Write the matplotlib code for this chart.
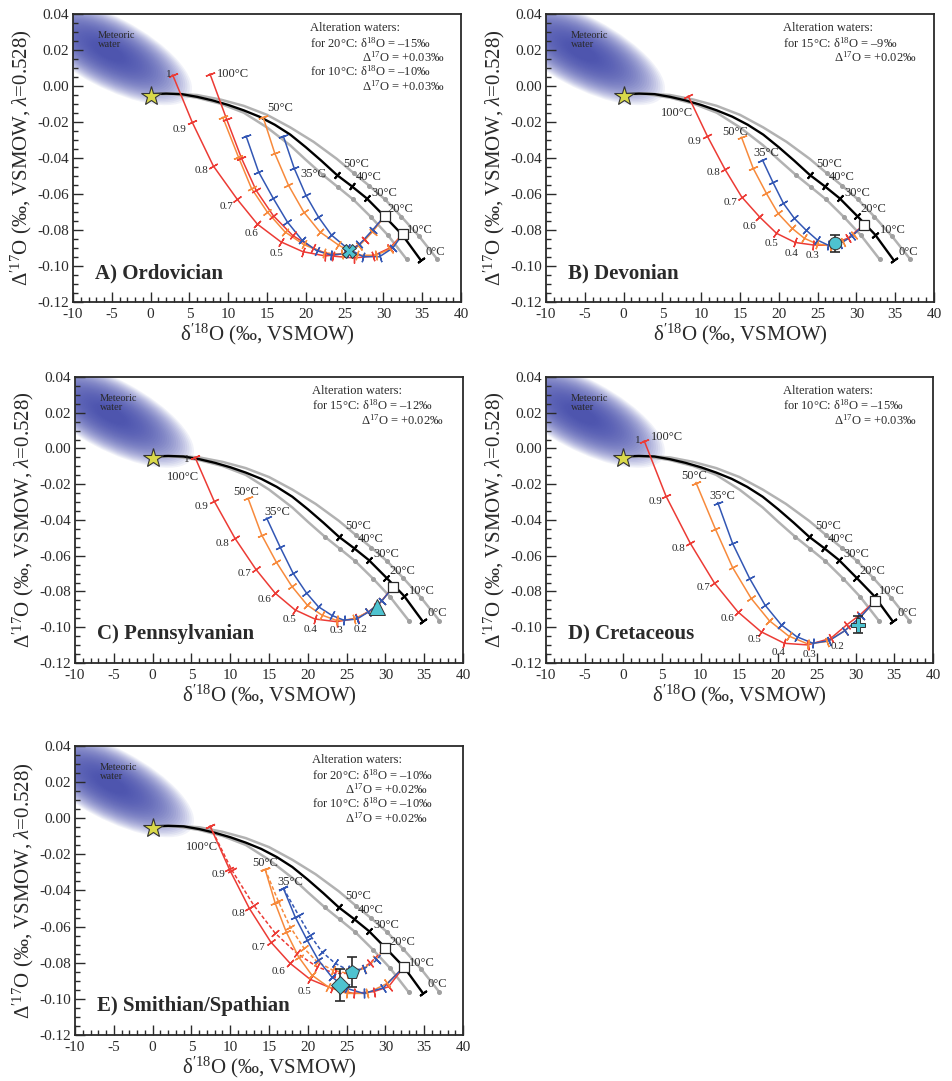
import numpy as np
import matplotlib
matplotlib.use("Agg")
import matplotlib.pyplot as plt
import matplotlib.transforms as mtransforms
from matplotlib.patches import Ellipse
from matplotlib.ticker import FixedLocator, FixedFormatter, MultipleLocator

plt.rcParams["font.family"] = ["Liberation Serif", "DejaVu Serif"]
plt.rcParams["mathtext.fontset"] = "custom"
plt.rcParams["mathtext.rm"] = "Liberation Serif"
plt.rcParams["mathtext.it"] = "Liberation Serif:italic"

# ---- axes ticks ----
X_TICKS = [-10, -5, 0, 5, 10, 15, 20, 25, 30, 35, 40]
X_TICK_LABELS = ["-10", "-5", "0", "5", "10", "15", "20", "25", "30", "35", "40"]
Y_TICKS = [-0.12, -0.10, -0.08, -0.06, -0.04, -0.02, 0.00, 0.02, 0.04]
Y_TICK_LABELS = ["-0.12", "-0.10", "-0.08", "-0.06", "-0.04", "-0.02", "0.00", "0.02", "0.04"]

# ---- carbonate equilibrium curves (shared by all panels) ----
BLACK_X = [0, 2, 4, 6, 8, 10, 12, 14, 16, 18, 20, 22, 24.0, 25.9, 27.85, 30.1, 32.4, 34.8]
BLACK_Y = [-0.0045, -0.0042, -0.0045, -0.006, -0.008, -0.0105, -0.0135, -0.017, -0.0215,
           -0.027, -0.034, -0.0415, -0.0494, -0.0556, -0.0624, -0.0722, -0.0825, -0.0967]
BLACK_TEMP_IDX = [12, 13, 14, 15, 16, 17]          # 50, 40, 30, 20, 10, 0 degC
GRAY_HI_X = [0.5, 3, 6, 9, 12, 15, 18, 21, 24, 26.2, 28.2, 30.2, 32.3, 34.6, 36.95]
GRAY_HI_Y = [-0.0045, -0.0042, -0.005, -0.0075, -0.011, -0.016, -0.023, -0.031, -0.0405,
             -0.0485, -0.0555, -0.063, -0.0725, -0.0835, -0.0963]
GRAY_LO_X = [0.5, 3, 6, 9, 12, 15, 18, 20, 22.2, 24.1, 26.1, 28.4, 30.6, 33.0]
GRAY_LO_Y = [-0.0045, -0.0045, -0.0065, -0.0098, -0.0148, -0.023, -0.033, -0.041, -0.0494,
             -0.056, -0.063, -0.0728, -0.083, -0.0963]
GRAY_HI_DOTS = [9, 10, 11, 12, 13, 14]
GRAY_LO_DOTS = [8, 9, 10, 11, 12, 13]
TEMP_LABELS = [("50°C", 26.45, -0.0433), ("40°C", 28.05, -0.0507), ("30°C", 30.1, -0.0593),
               ("20°C", 32.2, -0.0685), ("10°C", 34.65, -0.080), ("0°C", 36.65, -0.092)]
STAR = (0.0, -0.0055)

# ---- A) Ordovician ----
A_RED_20 = ([2.85, 5.37, 8.08, 11.17, 13.75, 16.76, 19.6, 22.5, 25.2, 27.6, 30.2],
            [0.0061, -0.0202, -0.0444, -0.063, -0.0767, -0.0865, -0.092, -0.0944, -0.093, -0.0855, -0.072])
A_RED_10 = ([7.65, 9.8, 11.7, 13.6, 15.8, 18.3, 20.9, 23.5, 26.2, 28.6, 30.8, 32.5],
            [0.0067, -0.0185, -0.040, -0.058, -0.072, -0.083, -0.090, -0.0945, -0.0955, -0.0945, -0.090, -0.0822])
A_ORA_20 = ([9.3, 11.3, 13.0, 15.0, 17.3, 19.7, 22.3, 24.6, 26.8, 28.6, 30.2],
            [-0.0174, -0.0393, -0.0569, -0.0698, -0.081, -0.088, -0.0926, -0.0935, -0.089, -0.081, -0.072])
A_ORA_10 = ([14.5, 16.0, 17.75, 19.7, 21.8, 24.2, 26.6, 29.0, 30.9, 32.5],
            [-0.0174, -0.0374, -0.055, -0.0698, -0.081, -0.0883, -0.094, -0.094, -0.0905, -0.0822])
A_BLU_20 = ([12.3, 13.9, 15.8, 17.6, 19.5, 21.4, 23.3, 25.2, 26.9, 28.6, 30.2],
            [-0.0278, -0.0476, -0.0624, -0.0754, -0.0856, -0.0915, -0.0939, -0.093, -0.088, -0.080, -0.072])
A_BLU_10 = ([17.1, 18.5, 20.0, 21.6, 23.3, 25.3, 27.4, 29.5, 31.2, 32.5],
            [-0.0278, -0.0457, -0.0606, -0.0726, -0.0828, -0.090, -0.0948, -0.0948, -0.090, -0.0822])
A_SQUARES = ([30.2, 32.5], [-0.072, -0.0822])
A_SAMPLE = (25.5, -0.0915)
A_LABELS = [("1", 2.3, 0.0062), ("100°C", 10.6, 0.0065), ("50°C", 16.7, -0.0124), ("35°C", 20.9, -0.049),
            ("0.9", 3.7, -0.0239), ("0.8", 6.6, -0.047), ("0.7", 9.8, -0.0667), ("0.6", 13.0, -0.0818),
            ("0.5", 16.25, -0.093)]
A_NOTE = ["Alteration waters:", "for 20°C: δ$^{18}$O = –15‰", "Δ$^{17}$O = +0.03‰",
          "for 10°C: δ$^{18}$O = –10‰", "Δ$^{17}$O = +0.03‰"]

# ---- B) Devonian ----
B_RED = ([8.34, 10.79, 13.07, 15.2, 17.5, 19.7, 22.1, 24.45, 26.6, 28.9, 31.0],
         [-0.0056, -0.0278, -0.0463, -0.0615, -0.0726, -0.0818, -0.0869, -0.0883, -0.0885, -0.0845, -0.077])
B_ORA = ([15.2, 16.7, 18.4, 19.9, 21.7, 23.3, 24.9, 26.6, 28.3, 29.7, 31.0],
         [-0.0285, -0.0457, -0.0596, -0.0707, -0.079, -0.0846, -0.0877, -0.0888, -0.0865, -0.0825, -0.077])
B_BLU = ([17.9, 19.2, 20.6, 22.0, 23.5, 24.95, 26.4, 27.9, 29.4, 31.0],
         [-0.0411, -0.0531, -0.0652, -0.0735, -0.080, -0.0855, -0.0885, -0.0875, -0.0835, -0.077])
B_SQUARES = ([31.0], [-0.077])
B_SAMPLE = (27.2, -0.0874, 0.0046)
B_LABELS = [("100°C", 6.85, -0.0152), ("50°C", 14.35, -0.0254), ("35°C", 18.4, -0.0374),
            ("0.9", 9.2, -0.0306), ("0.8", 11.56, -0.048), ("0.7", 13.84, -0.0648), ("0.6", 16.2, -0.0778),
            ("0.5", 19.1, -0.0874), ("0.4", 21.6, -0.093), ("0.3", 24.4, -0.0944)]
B_NOTE = ["Alteration waters:", "for 15°C: δ$^{18}$O = –9‰", "Δ$^{17}$O = +0.02‰"]

# ---- C) Pennsylvanian ----
C_RED = ([5.46, 7.9, 10.6, 13.3, 15.8, 18.35, 20.9, 23.7, 26.3, 28.9, 31.0],
         [-0.0049, -0.0292, -0.0502, -0.0676, -0.081, -0.0903, -0.0954, -0.0969, -0.095, -0.0885, -0.0773])
C_ORA = ([12.3, 14.05, 15.9, 17.9, 19.9, 21.8, 23.7, 25.9, 27.8, 29.5, 31.0],
         [-0.0279, -0.0484, -0.0633, -0.0769, -0.0875, -0.0932, -0.0962, -0.0955, -0.0915, -0.0855, -0.0773])
C_BLU = ([14.7, 16.4, 18.1, 19.8, 21.35, 23.1, 24.6, 26.3, 27.8, 29.5, 31.0],
         [-0.039, -0.0549, -0.0698, -0.0807, -0.0885, -0.0934, -0.096, -0.0955, -0.0915, -0.0855, -0.0773])
C_SQUARES = ([31.0], [-0.0773])
C_SAMPLE = (28.9, -0.0885)
C_LABELS = [("1", 4.4, -0.0064), ("100°C", 3.96, -0.0158), ("50°C", 12.1, -0.0242), ("35°C", 16.1, -0.0353),
            ("0.9", 6.3, -0.0322), ("0.8", 9.0, -0.053), ("0.7", 11.8, -0.0702), ("0.6", 14.4, -0.0844),
            ("0.5", 17.6, -0.0956), ("0.4", 20.3, -0.1015), ("0.3", 23.7, -0.1021), ("0.2", 26.8, -0.101)]
C_NOTE = ["Alteration waters:", "for 15°C: δ$^{18}$O = –12‰", "Δ$^{17}$O = +0.02‰"]

# ---- D) Cretaceous ----
D_RED = ([2.7, 5.5, 8.64, 11.74, 14.77, 17.78, 20.8, 23.8, 26.8, 28.85, 30.6, 32.55],
         [0.0042, -0.0266, -0.053, -0.0751, -0.0913, -0.1025, -0.109, -0.1099, -0.1062, -0.0987, -0.093, -0.0851])
D_ORA = ([9.38, 11.9, 14.1, 16.5, 18.85, 21.35, 23.8, 26.3, 28.6, 30.7, 32.55],
         [-0.0191, -0.0452, -0.0665, -0.0838, -0.0963, -0.1049, -0.1093, -0.108, -0.102, -0.094, -0.0851])
D_BLU = ([12.2, 14.1, 16.3, 18.3, 20.4, 22.4, 24.5, 26.6, 28.6, 30.7, 32.55],
         [-0.0303, -0.053, -0.0726, -0.0876, -0.0987, -0.1053, -0.109, -0.1075, -0.102, -0.094, -0.0851])
D_SQUARES = ([32.55], [-0.0851])
D_SAMPLE = (30.3, -0.0987, 0.0047)
D_LABELS = [("1", 1.9, 0.0042), ("100°C", 5.6, 0.0063), ("50°C", 9.15, -0.0154), ("35°C", 12.8, -0.0264),
            ("0.9", 4.1, -0.0298), ("0.8", 7.1, -0.0558), ("0.7", 10.4, -0.0777), ("0.6", 13.5, -0.095),
            ("0.5", 16.9, -0.1071), ("0.4", 20.1, -0.1142), ("0.3", 24.0, -0.115), ("0.2", 27.7, -0.1109)]
D_NOTE = ["Alteration waters:", "for 10°C: δ$^{18}$O = –15‰", "Δ$^{17}$O = +0.03‰"]

# ---- E) Smithian/Spathian ----
E_RED_10 = ([7.4, 9.9, 12.46, 15.2, 17.7, 20.3, 23.1, 25.9, 28.5, 30.4, 32.4],
            [-0.0043, -0.0283, -0.0499, -0.0684, -0.0803, -0.0892, -0.0942, -0.097, -0.096, -0.0933, -0.0822])
E_RED_20 = ([7.4, 10.2, 13.0, 15.8, 18.6, 21.15, 23.5, 25.9, 28.0, 30.0],
            [-0.0043, -0.0287, -0.048, -0.0637, -0.0748, -0.0822, -0.0859, -0.0859, -0.0803, -0.0717])
E_ORA_10 = ([14.5, 15.8, 17.2, 18.8, 20.5, 22.6, 25.0, 27.6, 30.2, 32.4],
            [-0.0283, -0.0471, -0.0628, -0.0767, -0.0868, -0.0933, -0.097, -0.097, -0.0915, -0.0822])
E_ORA_20 = ([14.5, 16.2, 17.7, 19.5, 21.2, 23.2, 25.1, 27.2, 28.8, 30.0],
            [-0.0283, -0.046, -0.060, -0.072, -0.0795, -0.0841, -0.0859, -0.0833, -0.078, -0.0717])
E_BLU_10 = ([16.85, 18.35, 19.9, 21.35, 23.05, 25.0, 27.2, 29.7, 32.4],
            [-0.0388, -0.0545, -0.0674, -0.0785, -0.0877, -0.0942, -0.097, -0.094, -0.0822])
E_BLU_20 = ([16.85, 18.8, 20.3, 21.8, 23.5, 25.2, 27.2, 28.9, 30.0],
            [-0.0388, -0.0537, -0.0648, -0.0739, -0.0803, -0.0841, -0.0835, -0.0785, -0.0717])
E_SQUARES = ([30.0, 32.4], [-0.0717, -0.0822])
E_SAMPLE_1 = (24.15, -0.0923, 0.0088)
E_SAMPLE_2 = (25.7, -0.085, 0.0083)
E_LABELS = [("100°C", 6.3, -0.0158), ("50°C", 14.5, -0.0246), ("35°C", 17.7, -0.0351),
            ("0.9", 8.5, -0.031), ("0.8", 11.05, -0.0526), ("0.7", 13.6, -0.0715), ("0.6", 16.2, -0.085),
            ("0.5", 19.6, -0.096)]
E_NOTE = ["Alteration waters:", "for 20°C: δ$^{18}$O = –10‰", "Δ$^{17}$O = +0.02‰",
          "for 10°C: δ$^{18}$O = –10‰", "Δ$^{17}$O = +0.02‰"]

RED = "#ec3b35"
ORANGE = "#f78a3c"
BLUE = "#3357b4"
GRAY = "#b2b2b2"
CYAN = "#4ec3d0"
INK = "#2a2a2a"

fig = plt.figure(figsize=(9.52, 10.81), dpi=100)


def tick_marks(ax, xs, ys, idx, color, size, lw):
    pts = ax.transData.transform(np.column_stack([xs, ys]))
    n = len(xs)
    for i in idx:
        a = pts[max(i - 1, 0)]
        b = pts[min(i + 1, n - 1)]
        ang = np.degrees(np.arctan2(b[1] - a[1], b[0] - a[0]))
        ax.plot(xs[i], ys[i], ls="none", marker=(2, 2, ang), ms=size,
                mec=color, mew=lw, zorder=4)


def mixing(ax, curve, color, dashed=False):
    xs, ys = curve
    ls = (0, (2.5, 1.5)) if dashed else "-"
    ax.plot(xs, ys, color=color, lw=1.1, ls=ls, zorder=3)
    tick_marks(ax, xs, ys, range(len(xs) - 1), color, 7, 1.0)


def base_axes(rect, title, note, note_indent, xlabel):
    ax = fig.add_axes(rect)
    ax.set_xlim(-10, 40)
    ax.set_ylim(-0.12, 0.04)
    ax.xaxis.set_major_locator(FixedLocator(X_TICKS))
    ax.xaxis.set_major_formatter(FixedFormatter(X_TICK_LABELS))
    ax.yaxis.set_major_locator(FixedLocator(Y_TICKS))
    ax.yaxis.set_major_formatter(FixedFormatter(Y_TICK_LABELS))
    ax.xaxis.set_minor_locator(MultipleLocator(1))
    ax.yaxis.set_minor_locator(MultipleLocator(0.005))
    ax.tick_params(which="both", direction="in", top=False, right=False,
                   colors=INK, labelsize=11, width=1.0)
    ax.tick_params(which="major", length=7, pad=3)
    ax.tick_params(axis="x", which="major", pad=4)
    ax.tick_params(which="minor", length=3.5)
    for sp in ax.spines.values():
        sp.set_linewidth(1.3)
        sp.set_color(INK)
    ax.set_xlabel(xlabel, fontsize=15, color=INK, labelpad=1)
    ax.set_ylabel("Δ$^{\\prime 17}$O (‰, VSMOW, $\\lambda$=0.528)", fontsize=15,
                  color=INK, labelpad=2)

    # meteoric water cloud
    tr = fig.dpi_scale_trans + mtransforms.ScaledTranslation(-5.4, 0.019, ax.transData)
    for k in range(32):
        s = 1.0 - k * 0.027
        ax.add_patch(Ellipse((0, 0), 1.85 * s, 0.70 * s, angle=-28, transform=tr,
                             fc=(0.26, 0.29, 0.68), ec="none", alpha=0.07, zorder=0))
    ax.text(-6.8, 0.0256, "Meteoric\nwater", fontsize=7.5, color=INK,
            va="center", ha="left", linespacing=1.0, zorder=2)

    ax.plot(GRAY_HI_X, GRAY_HI_Y, color=GRAY, lw=1.8, zorder=1)
    ax.plot(GRAY_LO_X, GRAY_LO_Y, color=GRAY, lw=1.8, zorder=1)
    ax.plot([GRAY_HI_X[i] for i in GRAY_HI_DOTS], [GRAY_HI_Y[i] for i in GRAY_HI_DOTS],
            ls="none", marker="o", ms=2.6, color="#a0a0a0", zorder=1)
    ax.plot([GRAY_LO_X[i] for i in GRAY_LO_DOTS], [GRAY_LO_Y[i] for i in GRAY_LO_DOTS],
            ls="none", marker="o", ms=2.6, color="#a0a0a0", zorder=1)
    ax.plot(BLACK_X, BLACK_Y, color="black", lw=1.7, zorder=2)
    tick_marks(ax, BLACK_X, BLACK_Y, BLACK_TEMP_IDX, "black", 6, 1.4)
    for txt, x, y in TEMP_LABELS:
        ax.text(x, y, txt, fontsize=9, color=INK, ha="center", va="center", zorder=6)
    ax.plot(*STAR, marker="*", ms=15, mfc="#d9d94a", mec="#333333", mew=0.8, zorder=7)

    ax.text(-7.2, -0.104, title, fontsize=15, fontweight="bold", color=INK,
            va="center", ha="left", zorder=6)
    ys = [0.032, 0.024, 0.016, 0.008, 0.0]
    for i, line in enumerate(note):
        x = note_indent if line.startswith("Δ") else 20.6
        ax.text(x, ys[i], line, fontsize=9, color=INK, va="center", ha="left")
    return ax


def finish(ax, squares, labels):
    ax.plot(*squares, ls="none", marker="s", ms=7, mfc="white", mec=INK, mew=0.9, zorder=6)
    for txt, x, y in labels:
        fs = 8 if txt.startswith("0.") or txt == "1" else 9
        ax.text(x, y, txt, fontsize=fs, color=INK, ha="center", va="center", zorder=6)


def sample(ax, pt, marker, ms):
    if len(pt) == 3:
        ax.errorbar(pt[0], pt[1], yerr=pt[2], fmt="none", ecolor=INK, elinewidth=1.2,
                    capsize=3.5, capthick=1.2, zorder=7)
    ax.plot(pt[0], pt[1], ls="none", marker=marker, ms=ms, mfc=CYAN, mec="#333333",
            mew=0.7, zorder=8)


XL = "δ$^{\\prime 18}$O (‰, VSMOW)"

# A
ax = base_axes([0.0767, 0.7206, 0.4076, 0.2664], "A) Ordovician", A_NOTE, 27.2, XL)
for c, col in [(A_RED_20, RED), (A_RED_10, RED), (A_ORA_20, ORANGE), (A_ORA_10, ORANGE),
               (A_BLU_20, BLUE), (A_BLU_10, BLUE)]:
    mixing(ax, c, col)
finish(ax, A_SQUARES, A_LABELS)
sample(ax, A_SAMPLE, "X", 10)

# B
ax = base_axes([0.5735, 0.7206, 0.4076, 0.2664], "B) Devonian", B_NOTE, 27.15, XL)
for c, col in [(B_RED, RED), (B_ORA, ORANGE), (B_BLU, BLUE)]:
    mixing(ax, c, col)
finish(ax, B_SQUARES, B_LABELS)
sample(ax, B_SAMPLE, "o", 9)

# C
ax = base_axes([0.0788, 0.3867, 0.4076, 0.2646], "C) Pennsylvanian", C_NOTE, 26.9, XL)
for c, col in [(C_RED, RED), (C_ORA, ORANGE), (C_BLU, BLUE)]:
    mixing(ax, c, col)
finish(ax, C_SQUARES, C_LABELS)
sample(ax, C_SAMPLE, "^", 11)

# D
ax = base_axes([0.5735, 0.3867, 0.4065, 0.2646], "D) Cretaceous", D_NOTE, 27.15, XL)
for c, col in [(D_RED, RED), (D_ORA, ORANGE), (D_BLU, BLUE)]:
    mixing(ax, c, col)
finish(ax, D_SQUARES, D_LABELS)
sample(ax, D_SAMPLE, "P", 10)

# E
ax = base_axes([0.0788, 0.0426, 0.4076, 0.2673], "E) Smithian/Spathian", E_NOTE, 24.8, XL)
for c, col, d in [(E_RED_10, RED, False), (E_RED_20, RED, True), (E_ORA_10, ORANGE, False),
                  (E_ORA_20, ORANGE, True), (E_BLU_10, BLUE, False), (E_BLU_20, BLUE, True)]:
    mixing(ax, c, col, d)
finish(ax, E_SQUARES, E_LABELS)
sample(ax, E_SAMPLE_1, "D", 9)
sample(ax, E_SAMPLE_2, "p", 10)

fig.savefig("out.png", dpi=100)
